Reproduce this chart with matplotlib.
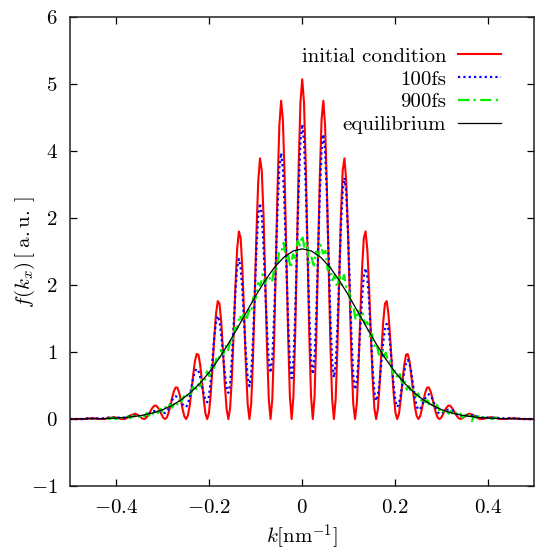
import matplotlib
matplotlib.use("Agg")
import matplotlib.pyplot as plt
import numpy as np

plt.rcParams["font.family"] = "serif"
plt.rcParams["font.serif"] = ["cmr10", "DejaVu Serif"]
plt.rcParams["mathtext.fontset"] = "cm"
plt.rcParams["axes.formatter.use_mathtext"] = True

# k grid for the oscillating curves (twelve samples per fringe)
k_fringe = np.linspace(-0.5, 0.5, 265)

# initial condition is symmetric: values for k >= 0, mirrored below
initial_right = [
    5.07, 4.73, 3.80, 2.52, 1.26, 0.34, 0, 0.33, 1.23, 2.44, 3.63, 4.47,
    4.75, 4.38, 3.48, 2.29, 1.13, 0.30, 0, 0.29, 1.06, 2.07, 3.05, 3.71,
    3.89, 3.55, 2.79, 1.82, 0.89, 0.23, 0, 0.22, 0.79, 1.54, 2.24, 2.70,
    2.80, 2.53, 1.96, 1.26, 0.61, 0.16, 0, 0.15, 0.52, 1.00, 1.44, 1.72,
    1.76, 1.57, 1.21, 0.77, 0.37, 0.09, 0, 0.08, 0.30, 0.57, 0.81, 0.96,
    0.97, 0.86, 0.65, 0.41, 0.19, 0.05, 0, 0.04, 0.15, 0.29, 0.40, 0.47,
    0.47, 0.41, 0.31, 0.19, 0.09, 0.02, 0, 0.02, 0.07, 0.13, 0.17, 0.20,
    0.20, 0.17, 0.13, 0.08, 0.04, 0.01, 0, 0.01, 0.03, 0.05, 0.07, 0.08,
    0.07, 0.06, 0.05, 0.03, 0.01, 0, 0, 0, 0.01, 0.02, 0.02, 0.03,
    0.02, 0.02, 0.02, 0.01, 0, 0, 0, 0, 0, 0.01, 0.01, 0.01,
    0.01, 0.01, 0.01, 0, 0, 0, 0, 0, 0, 0, 0, 0, 0,
]
initial = initial_right[:0:-1] + initial_right

fs100 = [
    0, 0, 0, 0, 0, 0, 0, 0, 0, 0.01, 0.01, 0.01,
    0.01, 0.01, 0.01, 0.01, 0.01, 0.01, 0.01, 0.01, 0.02, 0.02, 0.02, 0.02,
    0.02, 0.02, 0.02, 0.02, 0.02, 0.02, 0.02, 0.02, 0.03, 0.04, 0.04, 0.05,
    0.05, 0.05, 0.05, 0.05, 0.04, 0.04, 0.04, 0.05, 0.06, 0.08, 0.10, 0.11,
    0.12, 0.12, 0.11, 0.11, 0.10, 0.09, 0.09, 0.11, 0.15, 0.22, 0.28, 0.32,
    0.34, 0.33, 0.30, 0.26, 0.22, 0.19, 0.18, 0.22, 0.32, 0.47, 0.61, 0.71,
    0.75, 0.72, 0.63, 0.50, 0.38, 0.28, 0.25, 0.34, 0.57, 0.90, 1.22, 1.45,
    1.54, 1.46, 1.25, 0.97, 0.68, 0.47, 0.39, 0.52, 0.89, 1.39, 1.89, 2.26,
    2.39, 2.26, 1.92, 1.44, 0.97, 0.62, 0.49, 0.67, 1.17, 1.86, 2.54, 3.04,
    3.22, 3.05, 2.59, 1.96, 1.32, 0.86, 0.69, 0.91, 1.51, 2.33, 3.15, 3.75,
    3.97, 3.74, 3.13, 2.29, 1.45, 0.84, 0.61, 0.86, 1.56, 2.51, 3.45, 4.15,
    4.40, 4.15, 3.47, 2.54, 1.60, 0.92, 0.67, 0.91, 1.57, 2.46, 3.36, 4.01,
    4.25, 4.01, 3.34, 2.44, 1.53, 0.86, 0.62, 0.82, 1.37, 2.11, 2.86, 3.40,
    3.60, 3.39, 2.81, 2.02, 1.23, 0.65, 0.44, 0.56, 0.89, 1.35, 1.80, 2.13,
    2.25, 2.12, 1.76, 1.26, 0.77, 0.40, 0.27, 0.35, 0.56, 0.85, 1.13, 1.34,
    1.42, 1.34, 1.11, 0.80, 0.49, 0.26, 0.18, 0.23, 0.36, 0.53, 0.71, 0.83,
    0.88, 0.83, 0.70, 0.51, 0.33, 0.19, 0.14, 0.15, 0.20, 0.26, 0.31, 0.35,
    0.37, 0.35, 0.30, 0.23, 0.15, 0.10, 0.08, 0.08, 0.10, 0.11, 0.13, 0.14,
    0.14, 0.13, 0.12, 0.09, 0.07, 0.05, 0.04, 0.04, 0.04, 0.05, 0.05, 0.05,
    0.05, 0.05, 0.04, 0.04, 0.03, 0.02, 0.02, 0.02, 0.02, 0.02, 0.02, 0.02,
    0.02, 0.02, 0.02, 0.02, 0.01, 0.01, 0.01, 0.01, 0.01, 0.01, 0.01, 0.01,
    0.01, 0.01, 0.01, 0.01, 0, 0, 0, 0, 0, 0, 0, 0, 0,
]

# k grid for the 900 fs curve
k_900 = np.linspace(-0.42, 0.42, 169)

fs900 = [
    0.01, 0.00, 0.02, 0.01, 0.00,
    0.03, 0.01, 0.03, 0.01, 0.04, 0.01, 0.05, 0.03, 0.05, 0.03,
    0.08, 0.04, 0.09, 0.05, 0.11, 0.07, 0.12, 0.09, 0.15, 0.11,
    0.18, 0.15, 0.22, 0.17, 0.24, 0.20, 0.30, 0.26, 0.34, 0.30,
    0.41, 0.37, 0.48, 0.42, 0.53, 0.49, 0.61, 0.57, 0.71, 0.64,
    0.80, 0.76, 0.90, 0.87, 1.03, 0.96, 1.09, 1.01, 1.16, 1.14,
    1.36, 1.35, 1.55, 1.48, 1.59, 1.47, 1.63, 1.59, 1.82, 1.80,
    2.03, 1.99, 2.16, 2.02, 2.14, 2.10, 2.04, 2.26, 2.24, 2.48,
    2.48, 2.63, 2.38, 2.44, 2.25, 2.46, 2.40, 2.66, 2.59,
    2.74,
    2.55, 2.64, 2.33, 2.41, 2.29, 2.50, 2.43, 2.60, 2.47, 2.51,
    2.22, 2.27, 2.07, 2.15, 1.97, 2.13, 2.00, 2.15, 1.97, 1.96,
    1.67, 1.69, 1.48, 1.63, 1.50, 1.59, 1.42, 1.45, 1.23, 1.27,
    1.09, 1.13, 0.96, 1.04, 0.93, 0.99, 0.85, 0.86, 0.68, 0.72,
    0.61, 0.67, 0.54, 0.59, 0.44, 0.49, 0.39, 0.45, 0.34, 0.38,
    0.26, 0.32, 0.25, 0.28, 0.18, 0.22, 0.16, 0.21, 0.13, 0.17,
    0.09, 0.13, 0.08, 0.12, 0.06, 0.10, 0.05, 0.08, 0.02, 0.06,
    0.02, 0.06, -0.03, 0.04, 0.02, 0.04, 0.01, 0.03, 0.01, 0.02,
    0.01, 0.00, 0.02, 0.01,
]

k_eq = np.linspace(-0.5, 0.5, 51)
equilibrium = [
    0.001, 0.002, 0.003, 0.005, 0.009, 0.015, 0.024, 0.039, 0.061, 0.094,
    0.140, 0.204, 0.289, 0.398, 0.535, 0.700, 0.894, 1.113, 1.351, 1.597,
    1.841, 2.067, 2.262, 2.412, 2.507,
    2.540,
    2.507, 2.412, 2.262, 2.067, 1.841, 1.597, 1.351, 1.113, 0.894, 0.700,
    0.535, 0.398, 0.289, 0.204, 0.140, 0.094, 0.061, 0.039, 0.024, 0.015,
    0.009, 0.005, 0.003, 0.002, 0.001,
]

x_ticks = [-0.4, -0.2, 0, 0.2, 0.4]
x_tick_labels = [r"$-0.4$", r"$-0.2$", r"$0$", r"$0.2$", r"$0.4$"]
y_ticks = [-1, 0, 1, 2, 3, 4, 5, 6]
y_tick_labels = [r"$-1$", r"$0$", r"$1$", r"$2$", r"$2$", r"$4$", r"$5$", r"$6$"]


def main() -> None:
    fig = plt.figure(figsize=(5.35, 5.53), dpi=100)
    ax = fig.add_axes([0.1308, 0.1211, 0.8682, 0.8482])

    ax.plot(k_fringe, initial, color="#ff0000", lw=1.5, label="initial condition")
    ax.plot(k_fringe, fs100, color="#0000ff", lw=1.6, ls=(0, (1, 1.4)), label="100fs")
    ax.plot(k_900, fs900, color="#00ee00", lw=1.6, ls=(0, (5, 2, 1, 2)), label="900fs")
    ax.plot(k_eq, equilibrium, color="black", lw=0.9, label="equilibrium")

    ax.set_xlim(-0.5, 0.5)
    ax.set_ylim(-1, 6)
    ax.set_xticks(x_ticks)
    ax.set_xticklabels(x_tick_labels)
    ax.set_yticks(y_ticks)
    ax.set_yticklabels(y_tick_labels)
    ax.tick_params(direction="in", length=5, width=0.9, labelsize=15,
                   top=True, right=True)
    ax.tick_params(axis="x", pad=9)
    ax.tick_params(axis="y", pad=9)
    for spine in ax.spines.values():
        spine.set_linewidth(1.1)
        spine.set_color("#222222")

    ax.set_xlabel(r"$k[\mathrm{nm}^{-1}]$", fontsize=15, labelpad=4)
    ax.set_ylabel(r"$f(k_x)\,[\;\mathrm{a.u.}\;]$", fontsize=15)
    ax.yaxis.set_label_coords(-0.072, 0.5)

    ax.legend(loc="upper right", bbox_to_anchor=(0.929, 0.936), frameon=False,
              markerfirst=False, fontsize=15, handlelength=2.1,
              handletextpad=0.55, labelspacing=0.21, borderpad=0,
              borderaxespad=0)

    fig.savefig("out.png", dpi=100)


if __name__ == "__main__":
    main()
